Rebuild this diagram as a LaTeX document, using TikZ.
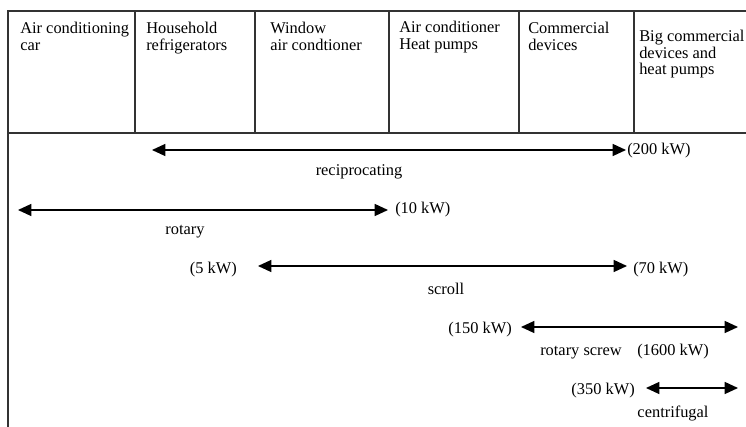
\documentclass[tikz,border=0pt]{standalone}
\usepackage{fontspec}
\setmainfont{Liberation Serif}
\usetikzlibrary{arrows.meta}

\tikzset{
  cell/.style={anchor=north west,align=left,inner sep=0pt,font=\fontsize{12.3}{12.4}\selectfont},
  lbl/.style={anchor=base,inner sep=0pt,font=\fontsize{12.3}{12.4}\selectfont},
  spanarrow/.style={{Triangle[length=10pt,width=9pt]}-{Triangle[length=10pt,width=9pt]},line width=1pt},
  tableline/.style={line width=0.9pt,black!80}
}

\begin{document}
\begin{tikzpicture}[x=0.75pt,y=-0.75pt]
  \useasboundingbox (0,0) rectangle (746,427);
  % table head
  \draw[tableline] (746,11) -- (8,11) -- (8,427);
  \draw[tableline] (8,133) -- (746,133);
  \foreach \xd in {135,255,389,519,634}
    \draw[tableline] (\xd,11) -- (\xd,133);
  \node[cell] (car) at (20,22) {Air conditioning\\car};
  \node[cell] (fridge) at (146,22) {Household\\refrigerators};
  \node[cell] (window) at (270,22) {Window\\air condtioner};
  \node[cell] (heatp) at (399,21) {Air conditioner\\Heat pumps};
  \node[cell] (comm) at (528,22) {Commercial\\devices};
  \node[cell] (bigcomm) at (639,30) {Big commercial\\devices and\\heat pumps};

  % compressor ranges
  \coordinate (recL) at (152,150);  \coordinate (recR) at (626,150);
  \coordinate (rotL) at (18,210);   \coordinate (rotR) at (388,210);
  \coordinate (scrL) at (258,266);  \coordinate (scrR) at (627,266);
  \coordinate (scwL) at (521,327);  \coordinate (scwR) at (738,327);
  \coordinate (cenL) at (646,388);  \coordinate (cenR) at (738,388);
  \draw[spanarrow] (recL) -- (recR);
  \draw[spanarrow] (rotL) -- (rotR);
  \draw[spanarrow] (scrL) -- (scrR);
  \draw[spanarrow] (scwL) -- (scwR);
  \draw[spanarrow] (cenL) -- (cenR);

  \node[lbl,anchor=base west] (kw200) at (627,155) {(200 kW)};
  \node[lbl] (recip) at (359,176) {reciprocating};
  \node[lbl,anchor=base west] (kw10) at (395,214) {(10 kW)};
  \node[lbl] (rotary) at (185,235) {rotary};
  \node[lbl,anchor=base east] (kw5) at (237,274) {(5 kW)};
  \node[lbl,anchor=base west] (kw70) at (633,274) {(70 kW)};
  \node[lbl] (scroll) at (446,295) {scroll};
  \node[lbl,anchor=base east] (kw150) at (512,334) {(150 kW)};
  \node[lbl] (screw) at (581,356) {rotary screw};
  \node[lbl] (kw1600) at (673,356) {(1600 kW)};
  \node[lbl,anchor=base east] (kw350) at (635,395) {(350 kW)};
  \node[lbl] (centri) at (673,417) {centrifugal};
\end{tikzpicture}
\end{document}
